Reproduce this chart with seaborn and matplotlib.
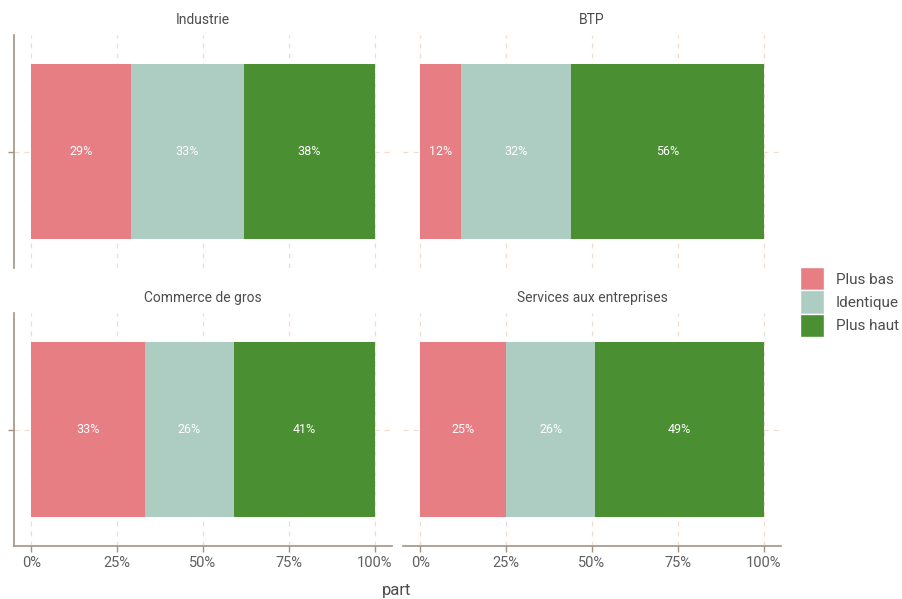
import numpy as np
import pandas as pd
import matplotlib.pyplot as plt
import seaborn as sns
from matplotlib.patches import Patch
from matplotlib.ticker import PercentFormatter

# data (share of answers per sector)
secteurs = ['Industrie', 'BTP', 'Commerce de gros', 'Services aux entreprises']
niveaux = ['Plus bas', 'Identique', 'Plus haut']
plus_bas = [29, 12, 33, 25]
identique = [33, 32, 26, 26]
plus_haut = [38, 56, 41, 49]
couleurs = ['#e67e84', '#aecdc2', '#4a8f32']

sns.set_theme(style='white')
plt.rcParams['font.family'] = ['Roboto', 'DejaVu Sans']

df = pd.DataFrame({'secteur': secteurs, 'Plus bas': plus_bas,
                   'Identique': identique, 'Plus haut': plus_haut})

axis_col = '#a39281'
grid_col = '#f0ddd0'
text_col = '#5f5f5f'

fig = plt.figure(figsize=(9.02, 5.99), dpi=100)
W, H = 902, 599
panels = [(14, 35), (403, 35), (14, 313), (403, 313)]
pw, ph = 378, 233

for i, (sect, (px, py)) in enumerate(zip(secteurs, panels)):
    ax = fig.add_axes([px / W, 1 - (py + ph) / H, pw / W, ph / H])
    row = df[df['secteur'] == sect].iloc[0]
    vals = np.array([row[n] for n in niveaux]) / 100
    cum = np.cumsum(vals)
    # overlapping cumulative bars = stacked bars
    for k in range(len(niveaux) - 1, -1, -1):
        d = pd.DataFrame({'part': [cum[k]], 'y': ['']})
        sns.barplot(data=d, x='part', y='y', color=couleurs[k], orient='h',
                    width=0.9, saturation=1, linewidth=0, ax=ax, zorder=2)
    starts = cum - vals
    for s, v in zip(starts, vals):
        ax.text(s + v / 2, 0, f'{round(v * 100):.0f}%', color='white',
                ha='center', va='center', fontsize=9, zorder=3)
    ax.set_xlim(-0.05, 1.05)
    ax.set_ylim(-0.6, 0.6)
    ax.set_xticks([0, 0.25, 0.5, 0.75, 1])
    ax.xaxis.set_major_formatter(PercentFormatter(1, decimals=0))
    ax.set_yticks([0])
    ax.set_yticklabels([''])
    ax.set_xlabel('')
    ax.set_ylabel('')
    ax.grid(True, color=grid_col, linestyle=(0, (4, 4)), linewidth=0.9, zorder=0)
    ax.set_axisbelow(True)
    for sp in ax.spines.values():
        sp.set_visible(False)
    left = i % 2 == 0
    bottom = i >= 2
    if left:
        ax.spines['left'].set_visible(True)
        ax.spines['left'].set_color(axis_col)
        ax.spines['left'].set_linewidth(1.2)
        ax.tick_params(axis='y', left=True, length=4, color=axis_col, width=1)
    else:
        ax.tick_params(axis='y', left=False)
    if bottom:
        ax.spines['bottom'].set_visible(True)
        ax.spines['bottom'].set_color(axis_col)
        ax.spines['bottom'].set_linewidth(1.2)
        ax.tick_params(axis='x', bottom=True, length=4, color=axis_col, width=1,
                       labelsize=10.5, labelcolor=text_col, pad=3)
    else:
        ax.tick_params(axis='x', bottom=False, labelbottom=False)
    ax.set_title(sect, fontsize=10, color='#4d4d4d', pad=8)

fig.text(397 / W, 1 - 591 / H, 'part', ha='center', va='center',
         fontsize=12, color='#4d4d4d')

handles = [Patch(facecolor=c, edgecolor='white', linewidth=1, label=n)
           for c, n in zip(couleurs, niveaux)]
fig.legend(handles=handles, loc='center left', bbox_to_anchor=(800 / W, 1 - 302 / H),
           frameon=False, fontsize=11, handlelength=1.6, handleheight=1.95,
           labelspacing=0.0, handletextpad=0.75, labelcolor='#4d4d4d', borderaxespad=0,
           borderpad=0)

fig.savefig('out.png', dpi=100)
